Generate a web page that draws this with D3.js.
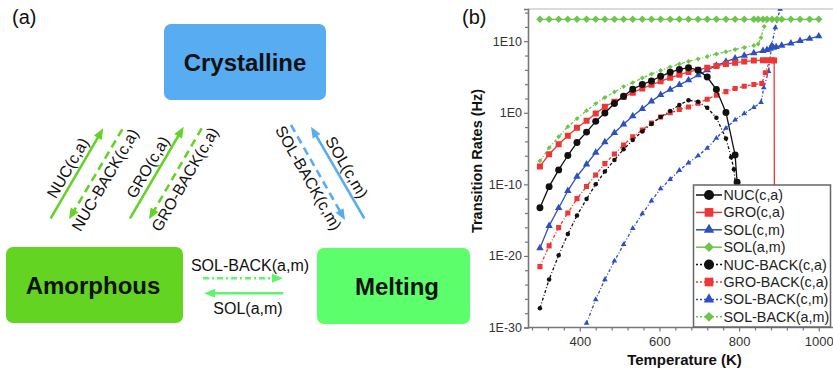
<!DOCTYPE html>
<html>
<head>
<meta charset="utf-8">
<script src="https://cdn.jsdelivr.net/npm/d3@7"></script>
<style>
  html, body { margin: 0; padding: 0; background: #fff; }
  svg { display: block; font-family: "Liberation Sans", Arial, sans-serif; }
</style>
</head>
<body>
<div id="chart"></div>
<script>
// Datos: [temperatura (K), log10 de la tasa (Hz)]
const nucCA = [[300,-13.27],[323,-10.32],[347,-7.98],[370,-5.97],[393,-4.15],[417,-2.7],[440,-1.2],[463,-0.03],[487,1.3],[510,2.3],[533,3.3],[557,3.95],[580,4.45],[603,5.1],[627,5.65],[650,6.05],[673,6.3],[697,5.95],[720,5.0],[743,3.25],[767,0.05],[790,-5.9],[795,-9.7],[799,-16]];
const groCA = [[300,-7.5],[323,-5.8],[347,-4.4],[370,-3.2],[393,-2.1],[417,-1.1],[440,-0.1],[463,0.85],[487,1.55],[510,2.2],[533,2.8],[557,3.4],[580,3.9],[603,4.4],[627,4.9],[650,5.3],[673,5.7],[697,6.0],[720,6.3],[743,6.55],[767,6.8],[790,7.0],[813,7.15],[837,7.3],[860,7.35],[872,7.35],[882,7.35],[888,7.3],[890,-60]];
const solCM = [[300,-18.9],[323,-15.8],[347,-13.3],[370,-10.9],[393,-8.9],[417,-7.2],[440,-5.55],[463,-4.1],[487,-2.8],[510,-1.6],[533,-0.45],[557,0.55],[580,1.6],[603,2.5],[627,3.25],[650,3.9],[673,4.55],[697,5.25],[720,5.95],[743,6.6],[767,7.15],[790,7.6],[813,8.0],[837,8.35],[860,8.65],[870,8.8],[878,8.95],[886,9.1],[893,9.2],[907,9.4],[930,9.7],[953,10.05],[977,10.35],[1000,10.7]];
const solAM = [[300,13.06],[323,13.06],[347,13.06],[370,13.06],[393,13.06],[417,13.06],[440,13.06],[463,13.06],[487,13.06],[510,13.06],[533,13.06],[557,13.06],[580,13.06],[603,13.06],[627,13.06],[650,13.06],[673,13.06],[697,13.06],[720,13.06],[743,13.06],[767,13.06],[790,13.06],[813,13.06],[837,13.06],[848,13.06],[860,13.06],[870,13.06],[883,13.06],[895,13.06],[907,13.06],[930,13.06],[953,13.06],[977,13.06],[1000,13.06]];
const nucBackCA = [[300,-27.3],[323,-23.3],[347,-19.9],[370,-16.95],[393,-14.35],[417,-12.05],[440,-10.0],[463,-8.2],[487,-6.6],[510,-5.1],[533,-3.8],[557,-2.6],[580,-1.55],[603,-0.6],[627,0.25],[650,1.1],[673,1.75],[697,1.55],[720,0.7],[743,-0.7],[767,-3.6],[780,-6.2],[787,-7.9],[792,-10.5],[800,-18]];
const groBackCA = [[300,-21.5],[323,-18.6],[347,-16.05],[370,-14.0],[393,-12.0],[417,-10.3],[440,-8.7],[463,-7.1],[487,-5.75],[510,-4.5],[533,-3.35],[557,-2.4],[580,-1.45],[603,-0.6],[627,0.0],[650,0.45],[673,0.8],[697,1.35],[720,1.9],[743,2.45],[767,2.95],[790,3.4],[813,3.7],[837,3.95],[857,4.1],[866,5.6],[877,7.3]];
const solBackCM = [[417,-29.4],[440,-26.1],[463,-23.3],[487,-20.7],[510,-18.4],[533,-16.15],[557,-14.1],[580,-12.3],[603,-10.6],[627,-9.3],[650,-8.05],[673,-7.0],[697,-6.0],[720,-4.95],[743,-3.55],[767,-2.15],[790,-1.0],[813,-0.1],[837,0.75],[855,1.45],[862,3.5],[874,5.8],[882,9.5],[891,11.9],[903,14.5],[912,16.5]];
const solBackAM = [[300,-6.72],[323,-4.9],[347,-3.35],[370,-1.94],[393,-0.82],[417,0.3],[440,1.28],[463,2.14],[487,2.9],[510,3.66],[533,4.22],[557,4.85],[580,5.41],[603,5.9],[627,6.39],[650,6.82],[673,7.17],[697,7.52],[720,7.87],[743,8.22],[767,8.53],[790,8.85],[813,9.13],[837,9.41],[848,9.6],[855,10.5],[863,12.05],[872,13.06],[893,13.06],[907,13.06],[930,13.06],[953,13.06],[977,13.06],[1000,13.06]];

// Marcas de los ejes
const xMajor = [400, 600, 800, 1000];
const xMinor = [280,320,360,440,480,520,560,640,680,720,760,840,880,920,960];
const yMajorExp = [-30, -20, -10, 0, 10];
const yMinorExp = [-28,-26,-24,-22,-18,-16,-14,-12,-8,-6,-4,-2,2,4,6,8,12,14];

const width = 833, height = 374;
const svg = d3.select("#chart").append("svg")
  .attr("width", width).attr("height", height);

// ---------- Panel (a): diagrama ----------
const green = "#64d325", blue = "#58acf2", light = "#5cf56c";

svg.append("text").attr("x", 12).attr("y", 24)
  .attr("font-size", "20px").attr("fill", "#111").text("(a)");

const boxes = [
  { label: "Crystalline", x: 164, y: 24, w: 162, h: 76, fill: "#58acf2", tx: 245, ty: 71 },
  { label: "Amorphous", x: 6, y: 247, w: 177, h: 76, fill: "#63d421", tx: 93, ty: 294 },
  { label: "Melting", x: 317, y: 248, w: 153, h: 76, fill: "#5cff6b", tx: 397, ty: 295 }
];
boxes.forEach(b => {
  svg.append("rect").attr("x", b.x).attr("y", b.y).attr("width", b.w).attr("height", b.h)
    .attr("rx", 7).attr("fill", b.fill);
  svg.append("text").attr("x", b.tx).attr("y", b.ty).attr("text-anchor", "middle")
    .attr("font-size", "24px").attr("font-weight", "bold").attr("fill", "#111").text(b.label);
});

const arrows = [
  { x1: 50.7, y1: 218.3, x2: 103.3, y2: 128.3, c: green, dash: null, label: "NUC(c,a)", side: 1 },
  { x1: 122.3, y1: 129.3, x2: 69, y2: 219.3, c: green, dash: "8,5", label: "NUC-BACK(c,a)", side: -1 },
  { x1: 130, y1: 218.3, x2: 183.7, y2: 126.7, c: green, dash: null, label: "GRO(c,a)", side: 1 },
  { x1: 201.7, y1: 128.3, x2: 149, y2: 219.3, c: green, dash: "8,5", label: "GRO-BACK(c,a)", side: -1 },
  { x1: 291, y1: 125, x2: 345, y2: 220, c: blue, dash: "8,5", label: "SOL-BACK(c,m)", side: -1 },
  { x1: 364.3, y1: 218.3, x2: 311, y2: 126.7, c: blue, dash: null, label: "SOL(c,m)", side: 1 },
  { x1: 203, y1: 278.3, x2: 283, y2: 278.3, c: light, dash: "6,3,2,3", label: null },
  { x1: 283.3, y1: 293.3, x2: 204, y2: 293.3, c: light, dash: null, label: null }
];

arrows.forEach(a => {
  const dx = a.x2 - a.x1, dy = a.y2 - a.y1, len = Math.hypot(dx, dy);
  const ux = dx / len, uy = dy / len;
  const hl = 11, hw = 4.5;
  const bx = a.x2 - ux * hl, by = a.y2 - uy * hl;
  svg.append("line").attr("x1", a.x1).attr("y1", a.y1)
    .attr("x2", a.x2 - ux * hl * 0.7).attr("y2", a.y2 - uy * hl * 0.7)
    .attr("stroke", a.c).attr("stroke-width", 2.6)
    .attr("stroke-dasharray", a.dash);
  svg.append("path")
    .attr("d", `M${a.x2},${a.y2}L${bx - uy * hw},${by + ux * hw}L${bx + uy * hw},${by - ux * hw}Z`)
    .attr("fill", a.c);

  if (a.label) {
    // dirección de lectura: de izquierda a derecha
    let rx = ux, ry = uy;
    if (rx < 0) { rx = -rx; ry = -ry; }
    const upx = ry, upy = -rx;
    const off = a.side > 0 ? 5 : -16.5;
    const mx = (a.x1 + a.x2) / 2 + upx * off, my = (a.y1 + a.y2) / 2 + upy * off;
    const ang = Math.atan2(ry, rx) * 180 / Math.PI;
    svg.append("text")
      .attr("transform", `translate(${mx},${my}) rotate(${ang})`)
      .attr("text-anchor", "middle").attr("font-size", "16px").attr("fill", "#111")
      .text(a.label);
  }
});

svg.append("text").attr("x", 250).attr("y", 270.5).attr("text-anchor", "middle")
  .attr("font-size", "16px").attr("fill", "#111").text("SOL-BACK(a,m)");
svg.append("text").attr("x", 248).attr("y", 313.5).attr("text-anchor", "middle")
  .attr("font-size", "16px").attr("fill", "#111").text("SOL(a,m)");

// ---------- Panel (b): tasas de transición ----------
const pLeft = 528, pTop = 9, pRight = 833, pBottom = 327.5;

const x = d3.scaleLinear().domain([270, 1030]).range([pLeft, 830.7]);
const y = d3.scaleLog().domain([1e-30, Math.pow(10, 14.5)]).range([pBottom, pTop]);

svg.append("text").attr("x", 462).attr("y", 24)
  .attr("font-size", "20px").attr("fill", "#111").text("(b)");

// marco superior
svg.append("line").attr("x1", pLeft).attr("x2", pRight).attr("y1", pTop).attr("y2", pTop)
  .attr("stroke", "#cfcfcf").attr("stroke-width", 1.5);

svg.append("clipPath").attr("id", "plotClip").append("rect")
  .attr("x", pLeft).attr("y", pTop).attr("width", pRight - pLeft).attr("height", pBottom - pTop);

const series = [
  { name: "NUC(c,a)", data: nucCA, color: "#111", dash: null, sym: "circle", size: 38, lsize: 80 },
  { name: "GRO(c,a)", data: groCA, color: "#f03535", dash: null, sym: "square", size: 36, lsize: 75 },
  { name: "SOL(c,m)", data: solCM, color: "#2c50c2", dash: null, sym: "triangle", size: 24, lsize: 48 },
  { name: "SOL(a,m)", data: solAM, color: "#6cc64a", dash: null, sym: "diamond", size: 28, lsize: 48 },
  { name: "NUC-BACK(c,a)", data: nucBackCA, color: "#111", dash: "3,2,1,2", sym: "circle", size: 16, lsize: 80 },
  { name: "GRO-BACK(c,a)", data: groBackCA, color: "#f03535", dash: "3,2,1,2", sym: "square", size: 26, lsize: 75 },
  { name: "SOL-BACK(c,m)", data: solBackCM, color: "#2c50c2", dash: "3,2,1,2", sym: "triangle", size: 14, lsize: 48 },
  { name: "SOL-BACK(a,m)", data: solBackAM, color: "#6cc64a", dash: "3,2,1,2", sym: "diamond", size: 12, lsize: 48 }
];

const symType = { circle: d3.symbolCircle, square: d3.symbolSquare, triangle: d3.symbolTriangle, diamond: d3.symbolSquare };

const line = d3.line().x(d => x(d[0])).y(d => y(Math.pow(10, d[1])));

const plot = svg.append("g").attr("clip-path", "url(#plotClip)");
const drawOrder = [7, 6, 5, 4, 3, 2, 1, 0];
drawOrder.forEach(i => {
  const s = series[i];
  plot.append("path").datum(s.data).attr("d", line)
    .attr("fill", "none").attr("stroke", s.color).attr("stroke-width", 1.3)
    .attr("stroke-dasharray", s.dash);
  plot.selectAll(null).data(s.data.filter(d => d[1] > -31 && d[1] < 15)).enter()
    .append("path")
    .attr("d", d3.symbol().type(symType[s.sym]).size(s.size))
    .attr("transform", d => `translate(${x(d[0])},${y(Math.pow(10, d[1]))})${s.sym === "diamond" ? " rotate(45)" : ""}`)
    .attr("fill", s.color);
});

// ejes
const axisColor = "#777";
const gy = svg.append("g").attr("transform", `translate(${pLeft},0)`)
  .call(d3.axisLeft(y).tickValues(yMajorExp.map(e => Math.pow(10, e)))
    .tickFormat(d => "1E" + Math.round(Math.log10(d))).tickSize(4).tickPadding(2));
svg.append("g").attr("transform", `translate(${pLeft},0)`)
  .call(d3.axisLeft(y).tickValues(yMinorExp.map(e => Math.pow(10, e))).tickFormat("").tickSize(3))
  .select(".domain").remove();

const gx = svg.append("g").attr("transform", `translate(0,${pBottom})`)
  .call(d3.axisBottom(x).tickValues(xMajor).tickFormat(d3.format("d")).tickSize(4).tickPadding(5));
svg.append("g").attr("transform", `translate(0,${pBottom})`)
  .call(d3.axisBottom(x).tickValues(xMinor).tickFormat("").tickSize(3))
  .select(".domain").remove();

svg.selectAll(".domain").attr("stroke", axisColor).attr("stroke-width", 1.6);
svg.selectAll(".tick line").attr("stroke", axisColor).attr("stroke-width", 1.2);
gy.selectAll(".tick text").attr("font-size", "12.5px").attr("fill", "#333")
  .attr("font-family", "Liberation Sans, Arial, sans-serif");
gx.selectAll(".tick text").attr("font-size", "13px").attr("fill", "#333")
  .attr("font-family", "Liberation Sans, Arial, sans-serif");
// eje x se extiende a la derecha
gx.select(".domain").attr("d", `M${pLeft},0H${pRight}`);

svg.append("text").attr("x", 684.5).attr("y", 365).attr("text-anchor", "middle")
  .attr("font-size", "15px").attr("font-weight", "bold").attr("fill", "#111")
  .text("Temperature (K)");
svg.append("text").attr("transform", "translate(482,161) rotate(-90)")
  .attr("text-anchor", "middle").attr("font-size", "14.5px").attr("font-weight", "bold").attr("fill", "#111")
  .text("Transition Rates (Hz)");

// leyenda
const lg = svg.append("g");
lg.append("rect").attr("x", 693.5).attr("y", 185).attr("width", 137).attr("height", 142)
  .attr("fill", "#fff").attr("stroke", "#666").attr("stroke-width", 1.5);
series.forEach((s, i) => {
  const cy = 195 + i * 17.4;
  lg.append("line").attr("x1", 696).attr("x2", 722).attr("y1", cy).attr("y2", cy)
    .attr("stroke", s.color).attr("stroke-width", 1.5).attr("stroke-dasharray", s.dash ? "2,2" : null);
  lg.append("path").attr("d", d3.symbol().type(symType[s.sym]).size(s.lsize))
    .attr("transform", `translate(709,${cy})${s.sym === "diamond" ? " rotate(45)" : ""}`)
    .attr("fill", s.color);
  lg.append("text").attr("x", 723.5).attr("y", cy + 5).attr("font-size", "14.3px").attr("fill", "#222")
    .text(s.name);
});
</script>
</body>
</html>
